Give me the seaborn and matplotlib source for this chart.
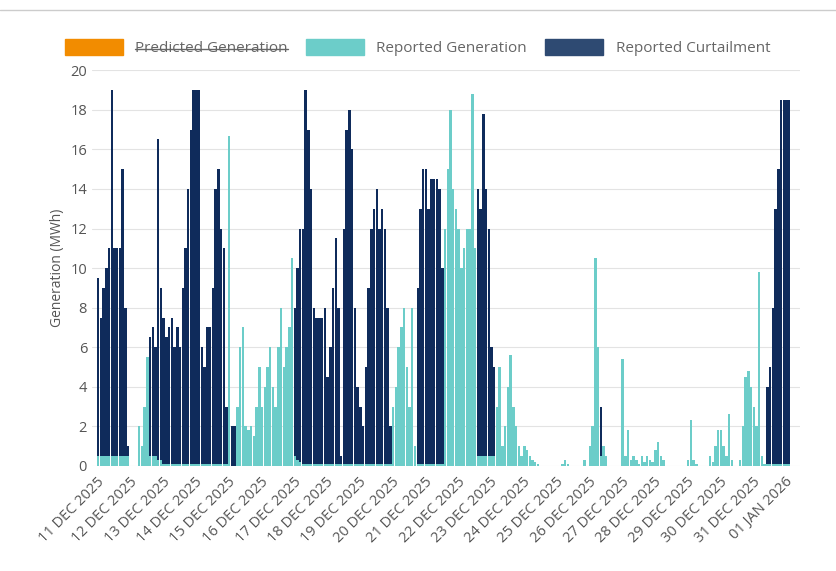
import matplotlib
matplotlib.use("Agg")
import matplotlib.pyplot as plt
import matplotlib.dates as mdates
from matplotlib.patches import Patch
import numpy as np
import pandas as pd
import seaborn as sns

# 2-hourly values, 12 slots per day, 11 Dec 2025 .. 31 Dec 2025, then 01 Jan slots
dias = pd.date_range("2025-12-11", "2025-12-31", freq="D")

geracao = [
    [0.5] * 12,                                                    # 11 dez
    [0, 0, 0, 2, 1, 3, 5.5, 0.5, 0.5, 0.5, 0.3, 0.3],              # 12
    [0.1] * 12,                                                    # 13
    [0.1] * 12,                                                    # 14
    [16.7, 0, 0, 3, 6, 7, 2, 1.8, 2, 1.5, 3, 5],                   # 15
    [3, 4, 5, 6, 4, 3, 6, 8, 5, 6, 7, 10.5],                       # 16
    [0.5, 0.3, 0.2, 0.1, 0.1, 0.1, 0.1, 0.1, 0.1, 0.1, 0.1, 0.1],  # 17
    [0.1] * 12,                                                    # 18
    [0.1] * 12,                                                    # 19
    [3, 4, 6, 7, 8, 5, 3, 8, 1, 0.1, 0.1, 0.1],                    # 20
    [0.1, 0.1, 0.1, 0.1, 0.1, 0.1, 0.1, 12, 15, 18, 14, 13],       # 21
    [12, 10, 11, 12, 12, 18.8, 11, 0.5, 0.5, 0.5, 0.5, 0.5],       # 22
    [0.5, 0.5, 3, 5, 1, 2, 4, 5.6, 3, 2, 1, 0.5],                  # 23
    [1, 0.8, 0.5, 0.3, 0.2, 0.1, 0, 0, 0, 0, 0, 0],                # 24
    [0, 0, 0.1, 0.3, 0.1, 0, 0, 0, 0, 0, 0.3, 0],                  # 25
    [1, 2, 10.5, 6, 0.5, 1, 0.5, 0, 0, 0, 0, 0],                   # 26
    [5.4, 0.5, 1.8, 0.3, 0.5, 0.3, 0.1, 0.5, 0.2, 0.5, 0.3, 0.2],  # 27
    [0.8, 1.2, 0.5, 0.3, 0, 0, 0, 0, 0, 0, 0, 0],                  # 28
    [0.3, 2.3, 0.3, 0.1, 0, 0, 0, 0, 0.5, 0.2, 1, 1.8],            # 29
    [1.8, 1, 0.5, 2.6, 0.3, 0, 0, 0.3, 2, 4.5, 4.8, 4],            # 30
    [3, 2, 9.8, 0.5, 0.1, 0.1, 0.1, 0.1, 0.1, 0.1, 0.1, 0.1],      # 31
]

corte = [
    [9, 7, 8.5, 9.5, 10.5, 18.5, 10.5, 10.5, 10.5, 14.5, 7.5, 0.5],
    [0, 0, 0, 0, 0, 0, 0, 6, 6.5, 5.5, 16.2, 8.7],
    [7.4, 6.4, 6.9, 7.4, 5.9, 6.9, 5.9, 8.9, 10.9, 13.9, 16.9, 18.9],
    [18.9, 18.9, 5.9, 4.9, 6.9, 6.9, 8.9, 13.9, 14.9, 11.9, 10.9, 2.9],
    [0, 2, 2, 0, 0, 0, 0, 0, 0, 0, 0, 0],
    [0] * 12,
    [7.5, 9.7, 11.8, 11.9, 18.9, 16.9, 13.9, 7.9, 7.4, 7.4, 7.4, 7.9],
    [4.4, 5.9, 8.9, 11.4, 7.9, 0.4, 11.9, 16.9, 17.9, 15.9, 7.9, 3.9],
    [2.9, 1.9, 4.9, 8.9, 11.9, 12.9, 13.9, 11.9, 12.9, 11.9, 7.9, 1.9],
    [0, 0, 0, 0, 0, 0, 0, 0, 0, 8.9, 12.9, 14.9],
    [14.9, 12.9, 14.4, 14.4, 14.4, 13.9, 9.9, 0, 0, 0, 0, 0],
    [0, 0, 0, 0, 0, 0, 0, 13.5, 12.5, 17.3, 13.5, 11.5],
    [5.5, 4.5, 0, 0, 0, 0, 0, 0, 0, 0, 0, 0],
    [0] * 12,
    [0] * 12,
    [0, 0, 0, 0, 2.5, 0, 0, 0, 0, 0, 0, 0],
    [0] * 12,
    [0] * 12,
    [0] * 12,
    [0] * 12,
    [0, 0, 0, 0, 0, 3.9, 4.9, 7.9, 12.9, 14.9, 18.4, 18.4],
]

geracao_jan = [0.1, 0.1]
corte_jan = [18.4, 18.4]

tempos = pd.date_range("2025-12-11", periods=len(dias) * 12 + 2, freq="2h")
gen = np.concatenate([np.ravel(geracao), geracao_jan])
curt = np.concatenate([np.ravel(corte), corte_jan])

sns.set_theme(style="white")
plt.rcParams["font.family"] = ["Open Sans", "DejaVu Sans"]

cor_ger = "#6ccdc9"
cor_corte = "#0f2b5b"

fig = plt.figure(figsize=(8.36, 5.71), dpi=100)
ax = fig.add_axes([0.110, 0.184, 0.847, 0.693])
largura = 2 / 24 * 0.9
ax.bar(tempos, gen, width=largura, align="edge", color=cor_ger, linewidth=0)
ax.bar(tempos, curt, bottom=gen, width=largura, align="edge", color=cor_corte, linewidth=0)

ax.set_ylim(0, 20)
ax.set_yticks(range(0, 21, 2))
ax.set_xlim(pd.Timestamp("2025-12-11") - pd.Timedelta(hours=3.6),
            pd.Timestamp("2026-01-01") + pd.Timedelta(hours=10.8))
ticks = pd.date_range("2025-12-11", "2026-01-01", freq="D")
ax.set_xticks(ticks)
ax.set_xticklabels([t.strftime("%d %b %Y").upper() for t in ticks],
                   rotation=45, ha="right", rotation_mode="anchor")
ax.tick_params(axis="both", colors="#555555", labelsize=10.5, length=0)
ax.tick_params(axis="x", pad=6)
ax.yaxis.grid(True, color="#e3e3e3", linewidth=0.8)
ax.set_axisbelow(True)
for s in ax.spines.values():
    s.set_visible(False)
ax.set_ylabel("Generation (MWh)", color="#555555", fontsize=10)

handles = [Patch(color="#f28c00"), Patch(color=cor_ger), Patch(color="#2e4a72")]
leg = ax.legend(handles, ["Predicted Generation", "Reported Generation", "Reported Curtailment"],
                loc="lower center", bbox_to_anchor=(0.46, 1.0), ncol=3, frameon=False,
                fontsize=11, handlelength=3.8, handleheight=1.2, columnspacing=1.2,
                labelcolor="#666666")
fig.canvas.draw()
t0 = leg.get_texts()[0]
bb = t0.get_window_extent().transformed(fig.transFigure.inverted())
fig.add_artist(plt.Line2D([bb.x0, bb.x1], [(bb.y0 + bb.y1) / 2] * 2,
                          transform=fig.transFigure, color="#666666", linewidth=1))
fig.add_artist(plt.Line2D([0, 1], [0.983, 0.983], transform=fig.transFigure,
                          color="#cccccc", linewidth=1))

fig.savefig("out.png", dpi=100)
